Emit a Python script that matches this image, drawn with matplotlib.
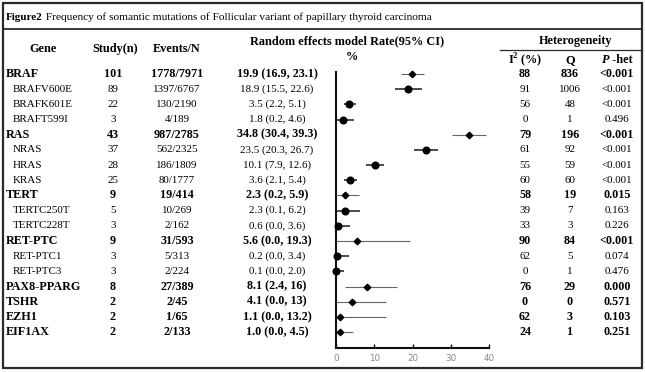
import matplotlib
matplotlib.use("Agg")
import matplotlib.pyplot as plt
from matplotlib.patches import Rectangle

genes = ["BRAF", "BRAFV600E", "BRAFK601E", "BRAFT599I", "RAS", "NRAS", "HRAS", "KRAS",
         "TERT", "TERTC250T", "TERTC228T", "RET-PTC", "RET-PTC1", "RET-PTC3",
         "PAX8-PPARG", "TSHR", "EZH1", "EIF1AX"]
is_group = [1, 0, 0, 0, 1, 0, 0, 0, 1, 0, 0, 1, 0, 0, 1, 1, 1, 1]
studies = [101, 89, 22, 3, 43, 37, 28, 25, 9, 5, 3, 9, 3, 3, 8, 2, 2, 2]
events = ["1778/7971", "1397/6767", "130/2190", "4/189", "987/2785", "562/2325",
          "186/1809", "80/1777", "19/414", "10/269", "2/162", "31/593", "5/313",
          "2/224", "27/389", "2/45", "1/65", "2/133"]
rate = ["19.9", "18.9", "3.5", "1.8", "34.8", "23.5", "10.1", "3.6", "2.3", "2.3",
        "0.6", "5.6", "0.2", "0.1", "8.1", "4.1", "1.1", "1.0"]
ci_low = ["16.9", "15.5", "2.2", "0.2", "30.4", "20.3", "7.9", "2.1", "0.2", "0.1",
          "0.0", "0.0", "0.0", "0.0", "2.4", "0.0", "0.0", "0.0"]
ci_high = ["23.1", "22.6", "5.1", "4.6", "39.3", "26.7", "12.6", "5.4", "5.9", "6.2",
           "3.6", "19.3", "3.4", "2.0", "16", "13", "13.2", "4.5"]
i2 = [88, 91, 56, 0, 79, 61, 55, 60, 58, 39, 33, 90, 62, 0, 76, 0, 62, 24]
q_stat = [836, 1006, 48, 1, 196, 92, 59, 60, 19, 7, 3, 84, 5, 1, 29, 0, 3, 1]
p_het = ["<0.001", "<0.001", "<0.001", "0.496", "<0.001", "<0.001", "<0.001", "<0.001",
         "0.015", "0.163", "0.226", "<0.001", "0.074", "0.476", "0.000", "0.571",
         "0.103", "0.251"]
x_ticks = [0, 10, 20, 30, 40]

title_bold = "Figure2"
title_rest = " Frequency of somantic mutations of Follicular variant of papillary thyroid carcinoma"

W, H = 645, 372
SERIF = "Liberation Serif"
ROW0, ROWSTEP = 74.0, 15.18

def row_px(i):
    return ROW0 + ROWSTEP * i

fig = plt.figure(figsize=(W / 100, H / 100), dpi=100)
ax0 = fig.add_axes([0, 0, 1, 1])
ax0.set_xlim(0, W)
ax0.set_ylim(H, 0)
ax0.axis("off")

# borders
ax0.add_patch(Rectangle((3, 3), 639, 365, fill=False, lw=1.6, ec="#2a2a2a"))
ax0.plot([3, 642], [29, 29], color="#2a2a2a", lw=1.3)
ax0.plot([500, 642], [50, 50], color="#2a2a2a", lw=0.9)

# title
t1 = ax0.text(6, 17, title_bold, fontsize=8.0, fontweight="bold", family=SERIF,
              va="center", ha="left")
fig.canvas.draw()
bb = t1.get_window_extent(fig.canvas.get_renderer())
ax0.text(bb.x1, 17, title_rest, fontsize=8.2, family=SERIF, va="center", ha="left")

# headers
hk = dict(fontsize=8.8, fontweight="bold", family=SERIF, va="center", ha="center")
ax0.text(43, 49, "Gene", **hk)
ax0.text(115, 49, "Study(n)", **hk)
ax0.text(177, 49, "Events/N", **hk)
ax0.text(347, 41, "Random effects model Rate(95% CI)", **hk)
ax0.text(352, 57, "%", **hk)
ax0.text(576, 41, "Heterogeneity", **hk)
ax0.text(525, 60, r"I$^\mathregular{2}$ (%)", **hk)
ax0.text(570, 60, "Q", **hk)
ax0.text(609, 60, "P", fontsize=8.8, fontweight="bold", family=SERIF, va="center",
         ha="right", style="italic")
ax0.text(609, 60, " -het", fontsize=8.8, fontweight="bold", family=SERIF, va="center",
         ha="left")

# table rows
for i, g in enumerate(genes):
    y = row_px(i)
    grp = is_group[i] == 1
    kw = dict(family=SERIF, va="center",
              fontsize=8.7 if grp else 7.9,
              fontweight="bold" if grp else "normal")
    ax0.text(6 if grp else 13, y, g, ha="left", **kw)
    ax0.text(113, y, str(studies[i]), ha="center", **kw)
    ax0.text(177, y, events[i], ha="center", **kw)
    ax0.text(277, y, f"{rate[i]} ({ci_low[i]}, {ci_high[i]})", ha="center", **kw)
    ax0.text(525, y, str(i2[i]), ha="center", **kw)
    ax0.text(570, y, str(q_stat[i]), ha="center", **kw)
    ax0.text(617, y, p_het[i], ha="center", **kw)

# forest axes
ax_l, ax_r, ax_t, ax_b = 336, 489, 72, 348
ax = fig.add_axes([ax_l / W, 1 - ax_b / H, (ax_r - ax_l) / W, (ax_b - ax_t) / H])
ax.set_xlim(x_ticks[0], x_ticks[-1])
ax.set_ylim((ax_b - ROW0) / ROWSTEP, (ax_t - ROW0) / ROWSTEP)
ax.patch.set_alpha(0)
for s in ["top", "right"]:
    ax.spines[s].set_visible(False)
for s in ["left", "bottom"]:
    ax.spines[s].set_linewidth(1.5)
    ax.spines[s].set_color("#111111")
ax.set_yticks([])
ax.set_xticks(x_ticks)
ax.tick_params(axis="x", direction="in", length=3, width=1, colors="#111111",
               labelcolor="#888888", labelsize=6.3, pad=4)
for lab in ax.get_xticklabels():
    lab.set_family("DejaVu Sans")

for i in range(len(genes)):
    grp = is_group[i] == 1
    r, lo, hi = float(rate[i]), float(ci_low[i]), float(ci_high[i])
    ax.plot([lo, hi], [i, i], color="#666666" if grp else "#1a1a1a",
            lw=0.8 if grp else 1.1, solid_capstyle="butt", clip_on=False, zorder=2)
    ax.plot([r], [i], marker="D" if grp else "o", ms=3.3 if grp else 4.8,
            color="black", clip_on=False, zorder=3)

fig.savefig("out.png", dpi=100)
